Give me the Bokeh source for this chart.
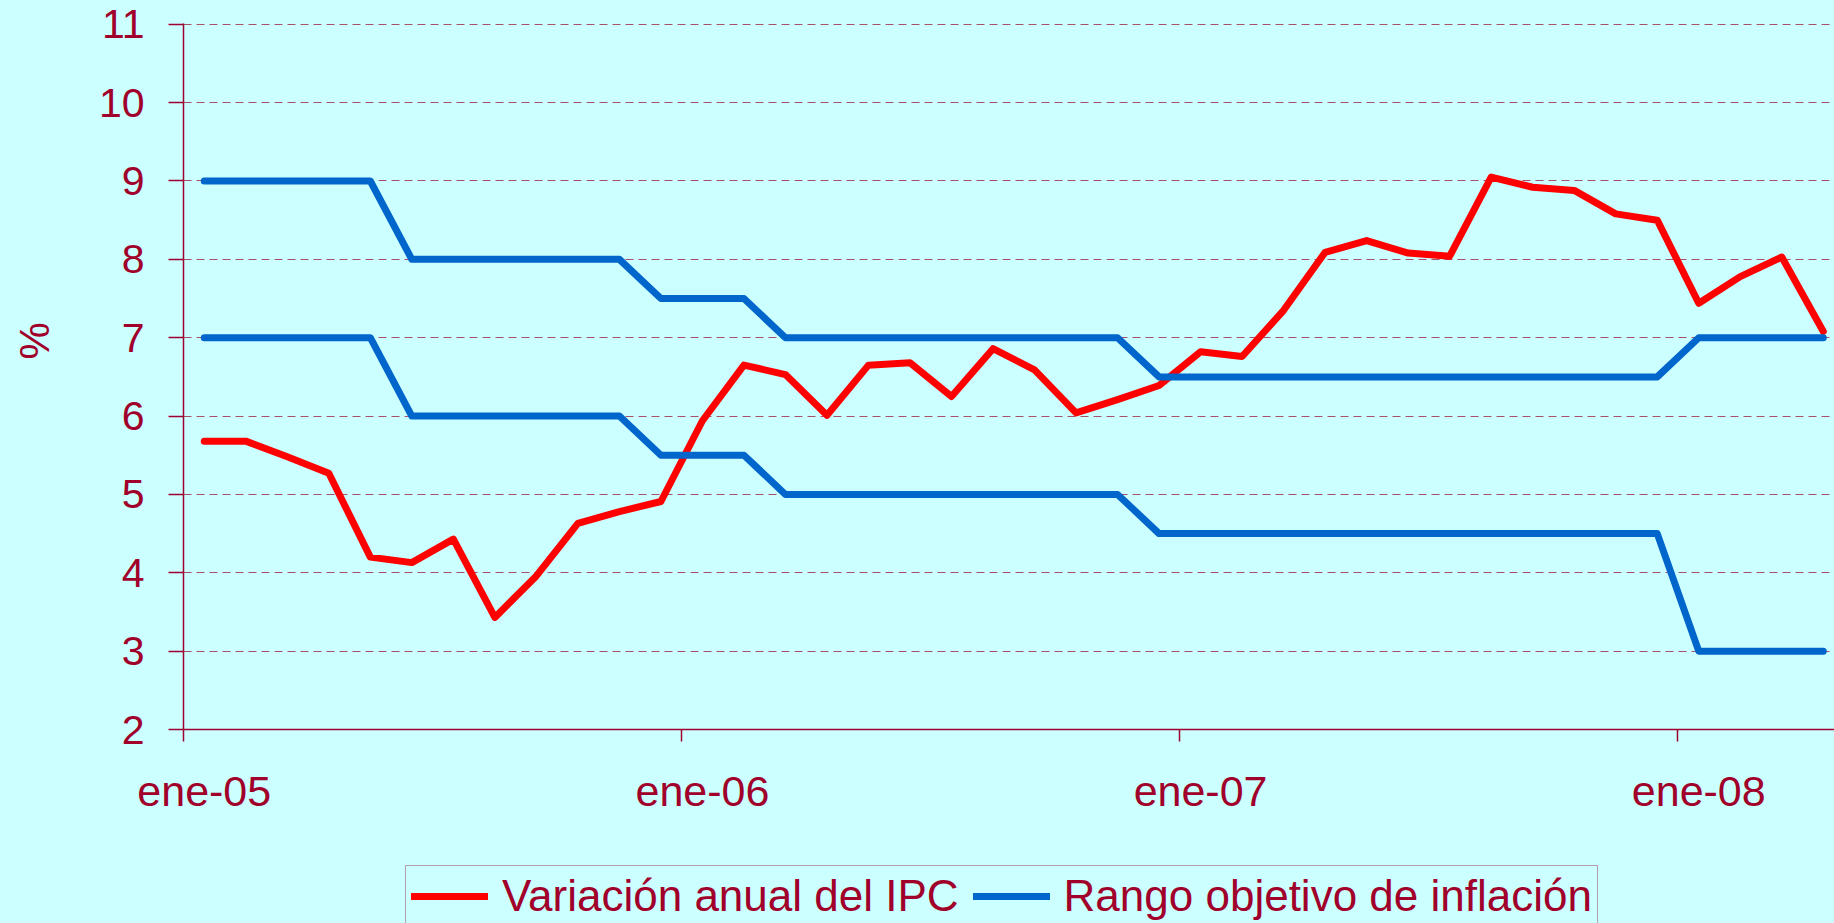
from bokeh.plotting import figure
from bokeh.layouts import column
from bokeh.models import (FixedTicker, Legend, LegendItem, Range1d)
from bokeh.embed import file_html
from bokeh.resources import INLINE

# ---- data ----
months = ["ene-05", "feb-05", "mar-05", "abr-05", "may-05", "jun-05", "jul-05", "ago-05", "sep-05", "oct-05", "nov-05", "dic-05",
          "ene-06", "feb-06", "mar-06", "abr-06", "may-06", "jun-06", "jul-06", "ago-06", "sep-06", "oct-06", "nov-06", "dic-06",
          "ene-07", "feb-07", "mar-07", "abr-07", "may-07", "jun-07", "jul-07", "ago-07", "sep-07", "oct-07", "nov-07", "dic-07",
          "ene-08", "feb-08", "mar-08", "abr-08"]
ipc = [5.68, 5.68, 5.48, 5.27, 4.20, 4.13, 4.43, 3.43, 3.96, 4.63, 4.78, 4.91,
       5.94, 6.65, 6.53, 6.01, 6.65, 6.68, 6.25, 6.86, 6.59, 6.04, 6.21, 6.39,
       6.82, 6.76, 7.35, 8.09, 8.24, 8.08, 8.04, 9.05, 8.92, 8.88, 8.58, 8.50,
       7.44, 7.78, 8.03, 7.08]
rango_sup = [9, 9, 9, 9, 9, 8, 8, 8, 8, 8, 8, 7.5,
             7.5, 7.5, 7, 7, 7, 7, 7, 7, 7, 7, 7, 6.5,
             6.5, 6.5, 6.5, 6.5, 6.5, 6.5, 6.5, 6.5, 6.5, 6.5, 6.5, 6.5,
             7, 7, 7, 7]
rango_inf = [7, 7, 7, 7, 7, 6, 6, 6, 6, 6, 6, 5.5,
             5.5, 5.5, 5, 5, 5, 5, 5, 5, 5, 5, 5, 4.5,
             4.5, 4.5, 4.5, 4.5, 4.5, 4.5, 4.5, 4.5, 4.5, 4.5, 4.5, 4.5,
             3, 3, 3, 3]
y_ticks = [2, 3, 4, 5, 6, 7, 8, 9, 10, 11]
x_tick_labels = ["ene-05", "ene-06", "ene-07", "ene-08"]
series_labels = ["Variación anual del IPC", "Rango objetivo de inflación"]
y_title = "%"

x = list(range(len(months)))
label_idx = [months.index(m) for m in x_tick_labels]
boundaries = [i - 0.5 for i in label_idx]

# ---- style ----
BG = "#CCFFFF"
TXT = "#A0002A"
AX = "#A00030"
RED = "#FF0000"
BLUE = "#0066CC"
FONT = "Liberation Sans"

# ---- main chart ----
p = figure(width=1834, height=862, output_backend="svg", toolbar_location=None,
           x_range=Range1d(-0.5, 39.27), y_range=Range1d(2, 11.01),
           min_border_left=183, min_border_right=0, min_border_top=23, min_border_bottom=133,
           background_fill_color=BG, border_fill_color=BG, outline_line_color=None)

line_style = dict(line_width=7, line_join="round", line_cap="round")
p.line(x, ipc, line_color=RED, **line_style)
p.line(x, rango_sup, line_color=BLUE, **line_style)
p.line(x, rango_inf, line_color=BLUE, **line_style)

# grid
p.xgrid.visible = False
p.ygrid.ticker = FixedTicker(ticks=y_ticks[1:])
p.ygrid.grid_line_color = "#A8506A"
p.ygrid.grid_line_width = 1.2
p.ygrid.grid_line_dash = "8 5"

# y axis
ya = p.yaxis[0]
ya.ticker = FixedTicker(ticks=y_ticks)
ya.axis_line_color = AX
ya.axis_line_width = 1.5
ya.major_tick_line_color = AX
ya.major_tick_line_width = 1.5
ya.major_tick_out = 15
ya.major_tick_in = 0
ya.minor_tick_line_color = None
ya.major_label_standoff = 24
ya.major_label_text_font = FONT
ya.major_label_text_font_size = "41px"
ya.major_label_text_color = TXT
ya.axis_label = "\u2003\u2002\u2009" + y_title
ya.axis_label_standoff = 38
ya.axis_label_text_font = FONT
ya.axis_label_text_font_size = "42px"
ya.axis_label_text_font_style = "normal"
ya.axis_label_text_color = TXT

# x axis
xa = p.xaxis[0]
xa.ticker = FixedTicker(ticks=label_idx, minor_ticks=boundaries)
xa.major_label_overrides = {i: lab for i, lab in zip(label_idx, x_tick_labels)}
xa.axis_line_color = AX
xa.axis_line_width = 1.5
xa.major_tick_line_color = None
xa.major_tick_out = 0
xa.major_tick_in = 0
xa.minor_tick_line_color = AX
xa.minor_tick_line_width = 1.5
xa.minor_tick_out = 12
xa.minor_tick_in = 0
xa.major_label_standoff = 25
xa.major_label_text_font = FONT
xa.major_label_text_font_size = "43px"
xa.major_label_text_color = TXT

# ---- legend strip (same series, drawn outside its own view so only the legend shows) ----
p2 = figure(width=1834, height=61, output_backend="svg", toolbar_location=None,
            x_range=Range1d(0, 1), y_range=Range1d(0, 1),
            x_axis_location=None, y_axis_location=None, min_border=0,
            background_fill_color=BG, border_fill_color=BG, outline_line_color=None)
p2.grid.visible = False
l_ipc = p2.line(x, ipc, line_color=RED, **line_style)
l_rango = p2.line(x, rango_sup, line_color=BLUE, **line_style)

legend = Legend(items=[LegendItem(label=series_labels[0], renderers=[l_ipc]),
                       LegendItem(label=series_labels[1], renderers=[l_rango])],
                orientation="horizontal", location=(222, -4),
                glyph_width=77, glyph_height=40, label_standoff=14, spacing=14,
                padding=5, margin=0,
                border_line_color="#A0405A", border_line_width=1.5,
                background_fill_color=BG, background_fill_alpha=1,
                label_text_font=FONT, label_text_font_size="44px", label_text_color=TXT)
p2.add_layout(legend, "center")

layout = column(p, p2, spacing=0)

html = file_html(layout, INLINE)
k = html.rfind("</head>")
if k != -1:
    html = html[:k] + "<style>body{background:#CCFFFF;}</style>" + html[k:]
open("out.html", "w").write(html)
